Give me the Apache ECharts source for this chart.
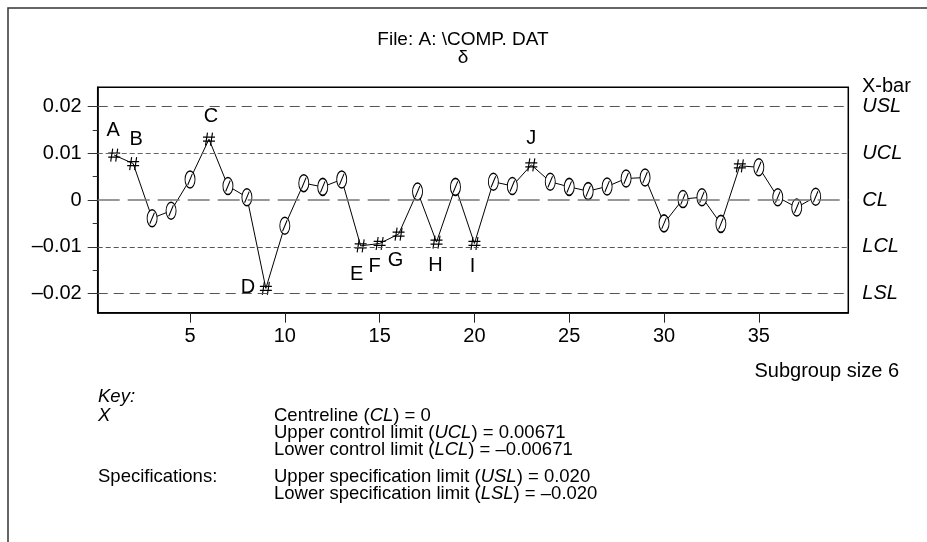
<!DOCTYPE html>
<html><head><meta charset="utf-8">
<script src="https://cdn.jsdelivr.net/npm/echarts@6/dist/echarts.min.js"></script>
<style>html,body{margin:0;padding:0;background:#fff}#c{width:927px;height:542px}</style>
</head><body><div id="c"></div>
<script>
const subgroups = [1,2,3,4,5,6,7,8,9,10,11,12,13,14,15,16,17,18,19,20,21,22,23,24,25,26,27,28,29,30,31,32,33,34,35,36,37,38];
const xbar = [0.0096,0.0078,-0.0039,-0.0023,0.0044,0.0130,0.0030,0.0006,-0.0189,-0.0055,
              0.0036,0.0028,0.0044,-0.0098,-0.0093,-0.0073,0.0018,-0.0090,0.0028,-0.0093,
              0.0039,0.0030,0.0075,0.0039,0.0028,0.0019,0.0029,0.0046,0.0048,-0.0050,
              0.0002,0.0006,-0.0051,0.0073,0.0070,0.0006,-0.0016,0.0007];
const markers = ['#','#','0','0','0','#','0','0','#','0',
                 '0','0','0','#','#','#','0','#','0','#',
                 '0','0','#','0','0','0','0','0','0','0',
                 '0','0','0','#','0','0','0','0'];
const letters = ['A','B','','','','C','','','D','',
                 '','','','E','F','G','','H','','I',
                 '','','J','','','','','','','',
                 '','','','','','','',''];
const limitNames = ['USL','UCL','CL','LCL','LSL'];
const limitValues = [0.020, 0.00671, 0, -0.00671, -0.020];
const yTickLabels = [-0.02,-0.01,0,0.01,0.02];
const yMinorTicks = [-0.02,-0.015,-0.01,-0.005,0,0.005,0.01,0.015,0.02];
const xTickLabels = [5,10,15,20,25,30,35];

// layout-only: label offsets for the letters (px)
const letterOffsets = {A:[-1,-25],B:[3,-24],C:[2,-23],D:[-18,-1],E:[-4,29],F:[-5,23],G:[-3,26],H:[-1,23],I:[-2,23],J:[0,-26]};
const limitStyles = {
  USL:{type:[10,6],color:'#555',width:1.2},
  LSL:{type:[10,6],color:'#555',width:1.2},
  UCL:{type:[5,3],color:'#666',width:1.2},
  LCL:{type:[5,3],color:'#555',width:1.2},
  CL:{type:[22,8],color:'#777',width:1.5}
};

const FONT = 'Liberation Sans';
const chart = echarts.init(document.getElementById('c'), null, {renderer:'canvas'});
const fmt = v => (v < 0 ? '\u2013' + String(Math.abs(v)) : String(v));

const pts = subgroups.map((x,i)=>[x,xbar[i]]);
const ZERO_PATH = 'path://M5,0 A5,10 0 1,1 5,20 A5,10 0 1,1 5,0 Z M7.3,3.5 L2.7,16.5';
const HASH_PATH = 'path://M4.5,0 L2.5,13 M9.5,0 L7.5,13 M0,4.5 L12,4.5 M0,8.5 L12,8.5';

const yMin = -0.0241, yMax = 0.0241;
const KEYFONT = 18.5;

chart.setOption({
  animation:false,
  grid:{left:97.7, top:87.3, right:78.7, bottom:229.3, show:true, borderColor:'#000', borderWidth:1.5, containLabel:false},
  xAxis:{type:'value', min:0.13, max:39.72,
    axisLine:{show:true, onZero:false, lineStyle:{color:'#000', width:1.5}},
    axisTick:{show:true, inside:false, length:10, customValues:xTickLabels, lineStyle:{color:'#222', width:1}},
    axisLabel:{show:true, customValues:xTickLabels, margin:14, fontSize:20, color:'#000', fontFamily:FONT},
    splitLine:{show:false}},
  yAxis:[
    {type:'value', min:yMin, max:yMax, position:'left',
      axisLine:{show:true, onZero:false, lineStyle:{color:'#000', width:1.5}},
      axisTick:{show:true, inside:false, length:10, customValues:yTickLabels, lineStyle:{color:'#333', width:1}},
      axisLabel:{show:true, customValues:yTickLabels, margin:16, fontSize:20, color:'#000', fontFamily:FONT, formatter:fmt},
      splitLine:{show:false}},
    {type:'value', min:yMin, max:yMax, position:'left', offset:0,
      axisLine:{show:false, onZero:false},
      axisTick:{show:true, inside:false, length:5, customValues:yMinorTicks, lineStyle:{color:'#333', width:1}},
      axisLabel:{show:false}, splitLine:{show:false}}
  ],
  series:[
    {type:'line', data:pts, symbol:'none', lineStyle:{color:'#000', width:1}, z:2, silent:true,
      markLine:{silent:true, symbol:'none', animation:false,
        data:limitNames.map((n,i)=>({yAxis:limitValues[i], lineStyle:limitStyles[n],
          label:{show:true, position:'end', distance:14, formatter:n, fontSize:20, fontStyle:'italic', color:'#000', fontFamily:FONT}}))}},
    {type:'scatter', z:4, silent:true,
      data:pts.filter((p,i)=>markers[i]==='0'),
      symbol:ZERO_PATH, symbolSize:[10,17],
      itemStyle:{color:'#fff', borderColor:'#000', borderWidth:1.2, opacity:1}},
    {type:'scatter', z:4, silent:true,
      data:pts.filter((p,i)=>markers[i]==='#'),
      symbol:HASH_PATH, symbolSize:[12,13],
      itemStyle:{color:'rgba(0,0,0,0)', borderColor:'#000', borderWidth:1.2, opacity:1}},
    {type:'scatter', z:5, silent:true, symbol:'circle', symbolSize:1,
      itemStyle:{color:'rgba(0,0,0,0)'},
      data:pts.map((p,i)=>({value:p, name:letters[i]})).filter(d=>d.name!=='').map(d=>({
        value:d.value, name:d.name,
        label:{show:true, position:'inside', formatter:d.name, offset:letterOffsets[d.name],
          fontSize:20, color:'#000', fontFamily:FONT, textBorderWidth:0, textBorderColor:'transparent', opacity:1}}))}
  ],
  graphic:[
    {type:'polyline', silent:true, shape:{points:[[8,1000],[8,8],[1000,8]]}, style:{fill:'none', stroke:'#333', lineWidth:1.5}},
    {type:'text', x:463, y:40, style:{text:'File: A: \\COMP. DAT', font:'19px "Liberation Sans"', fill:'#000', textAlign:'center', textVerticalAlign:'middle'}},
    {type:'text', x:463, y:58, style:{text:'\u03B4', font:'19px "Liberation Sans"', fill:'#000', textAlign:'center', textVerticalAlign:'middle'}},
    {type:'text', x:862, y:86, style:{text:'X-bar', font:'20px "Liberation Sans"', fill:'#000', textAlign:'left', textVerticalAlign:'middle'}},
    {type:'text', x:899, y:371, style:{text:'Subgroup size 6', font:'20px "Liberation Sans"', fill:'#000', textAlign:'right', textVerticalAlign:'middle'}},
    {type:'text', x:98, y:397, style:{text:'Key:', font:'italic ' + KEYFONT + 'px "Liberation Sans"', fill:'#000', textVerticalAlign:'middle'}},
    {type:'text', x:98, y:416, style:{text:'X', font:'italic ' + KEYFONT + 'px "Liberation Sans"', fill:'#000', textVerticalAlign:'middle'}},
    {type:'text', x:98, y:477, style:{text:'Specifications:', font:KEYFONT + 'px "Liberation Sans"', fill:'#000', textVerticalAlign:'middle'}},
    ...[
      ['Centreline ({i|CL}) = 0', 416],
      ['Upper control limit ({i|UCL}) = 0.00671', 433],
      ['Lower control limit ({i|LCL}) = \u20130.00671', 450],
      ['Upper specification limit ({i|USL}) = 0.020', 477],
      ['Lower specification limit ({i|LSL}) = \u20130.020', 494]
    ].map(([t,y])=>({type:'text', x:274, y:y, style:{text:t, fontSize:KEYFONT, fontFamily:FONT, fill:'#000', textVerticalAlign:'middle',
        rich:{i:{fontStyle:'italic', fontSize:KEYFONT, fontFamily:FONT, fill:'#000'}}}}))
  ]
});
</script></body></html>
